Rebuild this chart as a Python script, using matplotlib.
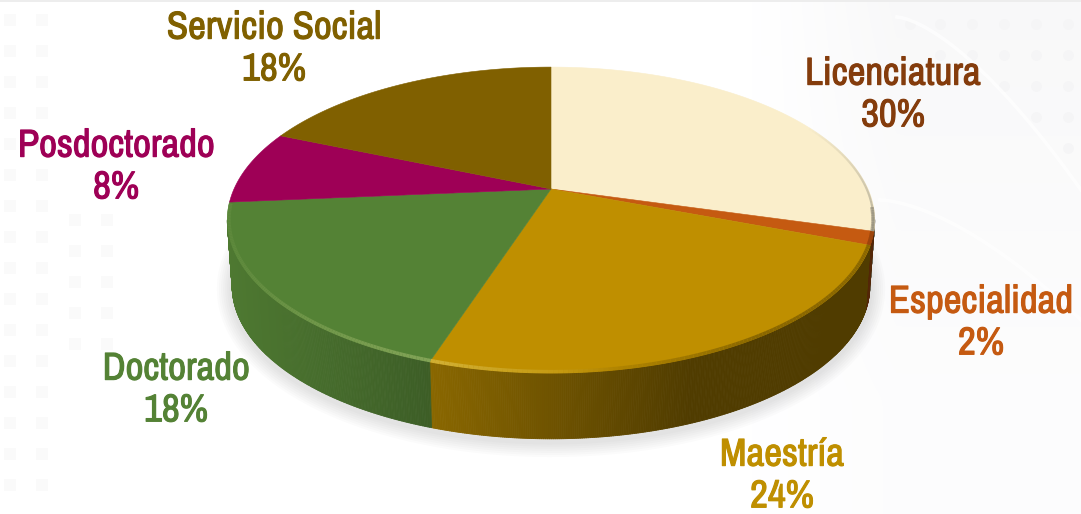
import numpy as np
import matplotlib
matplotlib.use('Agg')
import matplotlib.pyplot as plt
import matplotlib.patheffects as pe
from matplotlib.collections import PolyCollection, LineCollection
from matplotlib.colors import to_rgb

# clockwise from the top, shares
categorias = ['Licenciatura', 'Especialidad', 'Maestría', 'Doctorado', 'Posdoctorado', 'Servicio Social']
porciones = [29.4, 1.4, 24.2, 18.6, 7.8, 18.6]
porcentajes = ['30%', '2%', '24%', '18%', '8%', '18%']

color_top = ['#FAEECB', '#C55A11', '#BF8F00', '#548235', '#9E0056', '#806000']
color_txt = ['#843C0C', '#C55A11', '#BF8F00', '#548235', '#9E0056', '#806000']
pos_txt = [(893, 95), (981, 323), (782, 476), (176, 390), (116, 167), (274, 49)]

# pie geometry in pixels
cx, cy = 551, 189
ra, rb = 317, 146.6
dist = 4.94
grosor = 66


def proyecta(t, r=1.0, dz=0.0, esc=1.0):
    # t is clockwise from the top of the pie
    X = r*np.sin(t)
    Y = r*np.cos(t)
    s = dist/(dist+Y)
    return cx+esc*ra*X*s, cy-rb*Y*s+dz


def sombra(x):
    # darkening of the side wall from left to right
    return np.interp(x, [226, 430, 690, 874], [0.93, 0.72, 0.42, 0.42])


fig = plt.figure(figsize=(10.81, 5.14), dpi=100, facecolor='white')
ax = fig.add_axes([0, 0, 1, 1])
ax.axis('off')

# pale template behind the chart
gx = np.linspace(0, 1081, 120)
gy = np.linspace(0, 514, 60)
fondo = 1-0.025*np.clip((gx[None, :]-760)/140, 0, 1)*np.clip(1-gy[:, None]/620, 0.35, 1)
ax.imshow(np.dstack([fondo, fondo, fondo+0.002]).clip(0, 1), extent=(0, 1081, 514, 0), aspect='auto',
          zorder=0, interpolation='bilinear')
ax.set_xlim(0, 1081)
ax.set_ylim(514, 0)
ax.axhspan(0, 2, color='#EDEDED', zorder=0.5, lw=0)
for col_x, fila_y in [([10, 42], np.arange(20, 500, 31)), ([75, 107], np.arange(220, 350, 31))]:
    fx, fy = np.meshgrid(col_x, fila_y)
    ax.scatter(fx, fy, marker='s', s=70, color='#FAFAFA', lw=0, zorder=0.5)
for x0, filas in zip([910, 940, 972, 1004, 1036, 1068], [1, 2, 2, 3, 4, 5]):
    fy = 24+31*np.arange(filas)
    ax.scatter([x0]*filas, fy, marker='o', s=60, color='#F5F5F6', lw=0, zorder=0.5)
ax_x = np.linspace(880, 1081, 40)
ax.plot(ax_x, 200+120*((ax_x-880)/201)**1.6, color='white', lw=2.5, alpha=0.7, zorder=0.6)
ax_x = np.linspace(897, 1081, 40)
ax.plot(ax_x, 17+173*((ax_x-897)/184)**1.5, color='white', lw=2.5, alpha=0.7, zorder=0.6)

# soft shadow under the pie
tc = np.linspace(0, 2*np.pi, 400)
sx, sy = proyecta(tc, dz=grosor+3, esc=0.985)
for lw in np.arange(22, 1, -3):
    ax.plot(sx, sy, color='#808080', lw=lw, alpha=0.03, zorder=1)

lims = np.cumsum([0]+porciones)/100*2*np.pi

# side wall, only the part that faces the viewer
quads, cols = [], []
for i, col in enumerate(color_top):
    base = np.array(to_rgb(col))
    n = max(int((lims[i+1]-lims[i])*200), 3)
    tw = np.linspace(lims[i], lims[i+1], n+1)
    x1, y1 = proyecta(tw)
    x2, y2 = proyecta(tw, dz=grosor, esc=0.985)
    for j in range(n):
        if np.cos((tw[j]+tw[j+1])/2) > -1/dist:
            continue
        quads.append([(x1[j], y1[j]), (x1[j+1], y1[j+1]), (x2[j+1], y2[j+1]), (x2[j], y2[j])])
        cols.append(base*sombra((x1[j]+x1[j+1])/2))
ax.add_collection(PolyCollection(quads, facecolors=cols, edgecolors=cols, linewidths=0.6, zorder=2))

# top face
for i, col in enumerate(color_top):
    tw = np.linspace(lims[i], lims[i+1], 200)
    x1, y1 = proyecta(tw)
    ax.fill(np.r_[cx, x1], np.r_[cy, y1], color=col, lw=0.4, zorder=3)

# rim highlight, bright on the left, just a soft edge on the right
segs, cseg = [], []
for i, col in enumerate(color_top):
    base = np.array(to_rgb(col))
    tw = np.linspace(lims[i], lims[i+1], 120)
    x1, y1 = proyecta(tw, r=0.995)
    for j in range(len(tw)-1):
        xm = (x1[j]+x1[j+1])/2
        if y1[j] < 205:
            continue
        brillo = np.interp(xm, [226, 300, 440, 620, 874], [0.05, 0.15, 0.28, 0.0, 0.0])
        osc = np.interp(xm, [560, 760, 874], [1.0, 0.72, 0.72])
        segs.append([(x1[j], y1[j]), (x1[j+1], y1[j+1])])
        cseg.append(np.clip(base*osc+(np.array([1, 1, 0.7])-base)*brillo, 0, 1))
ax.add_collection(LineCollection(segs, colors=cseg, linewidths=2.6, zorder=4))

# grey bevel on the cream slice, fading in towards the edge
tb = np.linspace(np.radians(62), lims[1], 40)
xb, yb = proyecta(tb, r=0.996)
segb = [[(xb[j], yb[j]), (xb[j+1], yb[j+1])] for j in range(len(tb)-1)]
ax.add_collection(LineCollection(segb, colors=[(0.54, 0.53, 0.47, a) for a in np.linspace(0, 0.6, len(segb))],
                                 linewidths=1.6, zorder=4))

# Archivo Narrow only comes in one weight here, the stroke makes it bold
for nombre, pct, col, (tx, ty) in zip(categorias, porcentajes, color_txt, pos_txt):
    ax.text(tx, ty, nombre+'\n'+pct, color=col, ha='center', va='center', fontsize=28,
            linespacing=1.24, zorder=5, family=['Archivo Narrow', 'Liberation Sans'],
            path_effects=[pe.withStroke(linewidth=0.8, foreground=col)])

fig.savefig('out.png', dpi=100)
